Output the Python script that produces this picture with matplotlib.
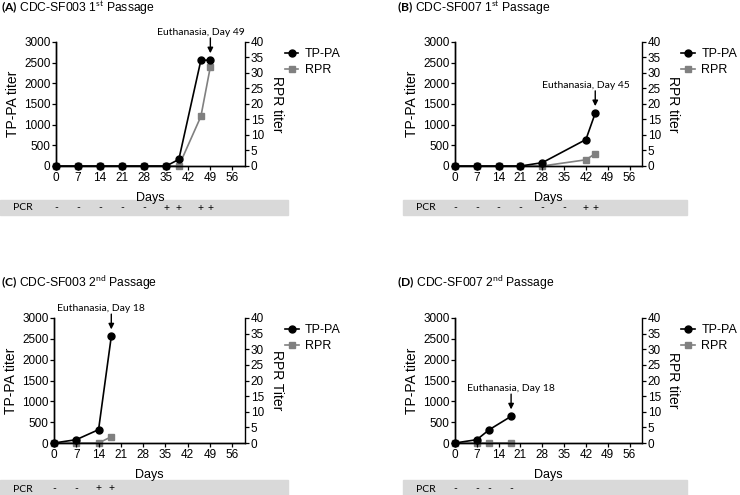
import matplotlib.pyplot as plt
from matplotlib.patches import Rectangle
from matplotlib.transforms import blended_transform_factory

plt.rcParams['font.family'] = ['Liberation Sans', 'DejaVu Sans']
plt.rcParams['mathtext.fontset'] = 'custom'
plt.rcParams['mathtext.rm'] = 'Lato'
plt.rcParams['mathtext.bf'] = 'Lato:bold'

# ---- data ----
a_days = [0, 7, 14, 21, 28, 35, 39, 46, 49]
a_tppa = [0, 0, 0, 0, 0, 0, 160, 2560, 2560]
a_rpr = [0, 0, 0, 0, 0, 0, 0, 16, 32]
a_pcr_days = [0, 7, 14, 21, 28, 35, 39, 46, 49]
a_pcr = ['-', '-', '-', '-', '-', '+', '+', '+', '+']

b_days = [0, 7, 14, 21, 28, 42, 45]
b_tppa = [0, 0, 0, 0, 80, 640, 1280]
b_rpr = [0, 0, 0, 0, 0, 2, 4]
b_pcr_days = [0, 7, 14, 21, 28, 35, 42, 45]
b_pcr = ['-', '-', '-', '-', '-', '-', '+', '+']

c_days = [0, 7, 14, 18]
c_tppa = [0, 80, 320, 2560]
c_rpr = [0, 0, 0, 2]
c_pcr_days = [0, 7, 14, 18]
c_pcr = ['-', '-', '+', '+']

d_days = [0, 7, 11, 18]
d_tppa = [0, 80, 320, 640]
d_rpr = [0, 0, 0, 0]
d_pcr_days = [0, 7, 11, 18]
d_pcr = ['-', '-', '-', '-']

titles = [r'$\mathbf{(A)}$ CDC-SF003 1$^{\mathrm{st}}$ Passage',
          r'$\mathbf{(B)}$ CDC-SF007 1$^{\mathrm{st}}$ Passage',
          r'$\mathbf{(C)}$ CDC-SF003 2$^{\mathrm{nd}}$ Passage',
          r'$\mathbf{(D)}$ CDC-SF007 2$^{\mathrm{nd}}$ Passage']
euth_days = [49, 45, 18, 18]
rpr_labels = ['RPR titer', 'RPR titer', 'RPR Titer', 'RPR titer']
x_ticks = [0, 7, 14, 21, 28, 35, 42, 49, 56]

W, H = 740, 495
fig = plt.figure(figsize=(7.4, 4.95), dpi=100)


def px_rect(left, top, right, bottom):
    return [left / W, 1 - bottom / H, (right - left) / W, (bottom - top) / H]


# layout (pixels): axes box, PCR band box, title position, annotation text x offset
layouts = [
    dict(ax=(56, 42, 245, 166), band=(0, 200, 288, 215), pcr_y=208, title=(1, 8), tdx=-9),
    dict(ax=(455, 42, 642, 166), band=(403, 200, 687, 215), pcr_y=208, title=(397, 8), tdx=-9),
    dict(ax=(54, 318, 245, 443), band=(0, 480, 288, 495), pcr_y=489, title=(1, 283), tdx=-10),
    dict(ax=(455, 318, 642, 443), band=(403, 480, 687, 495), pcr_y=489, title=(397, 283), tdx=0),
]

panels = [
    (a_days, a_tppa, a_rpr, a_pcr_days, a_pcr),
    (b_days, b_tppa, b_rpr, b_pcr_days, b_pcr),
    (c_days, c_tppa, c_rpr, c_pcr_days, c_pcr),
    (d_days, d_tppa, d_rpr, d_pcr_days, d_pcr),
]

for i, (days, tppa, rpr, pcr_days, pcr) in enumerate(panels):
    lay = layouts[i]
    ax = fig.add_axes(px_rect(*lay['ax']))
    ax2 = ax.twinx()
    ax.set_zorder(ax2.get_zorder() + 1)
    ax.patch.set_visible(False)

    l2, = ax2.plot(days, rpr, color='#808080', marker='s', markersize=4.5,
                   lw=1.2, clip_on=False, label='RPR')
    l1, = ax.plot(days, tppa, color='black', marker='o', markersize=5,
                  lw=1.2, clip_on=False, label='TP-PA')

    ax.set_xlim(0, 60)
    ax.set_ylim(0, 3000)
    ax2.set_ylim(0, 40)
    ax.set_xticks(x_ticks)
    ax.set_yticks(range(0, 3001, 500))
    ax2.set_yticks(range(0, 41, 5))
    for a in (ax, ax2):
        a.spines['top'].set_visible(False)
        for s in a.spines.values():
            s.set_linewidth(1.0)
        a.tick_params(direction='out', length=3, width=0.9, labelsize=8.5, pad=1)
    ax.spines['right'].set_visible(False)

    ax.set_xlabel('Days', fontsize=9)
    ax.xaxis.set_label_coords(0.5, -0.21)
    ax.set_ylabel('TP-PA titer', fontsize=10)
    ax.yaxis.set_label_coords(-0.19, 0.5)
    ax2.set_ylabel(rpr_labels[i], fontsize=10, rotation=270, va='center')
    ax2.yaxis.set_label_coords(1.168, 0.5)

    ax.legend([l1, l2], ['TP-PA', 'RPR'], loc='upper left',
              bbox_to_anchor=(1.21, 0.95), frameon=False, fontsize=9,
              handlelength=1.1, handletextpad=0.5, borderpad=0,
              borderaxespad=0, labelspacing=0.3)

    # euthanasia annotation
    ed = euth_days[i]
    ev = tppa[days.index(ed)]
    ax.annotate('', xy=(ed, ev), xycoords='data', xytext=(0, 16),
                textcoords='offset points',
                arrowprops=dict(arrowstyle='-|>', color='black', lw=1.0,
                                mutation_scale=8, shrinkA=0, shrinkB=5),
                annotation_clip=False)
    ax.annotate('Euthanasia, Day %d' % ed, xy=(ed, ev), xycoords='data',
                xytext=(lay['tdx'] * 0.72, 20), textcoords='offset points',
                ha='center', va='center', fontsize=7.5, family='Lato',
                annotation_clip=False)

    # PCR band
    bl, bt, br, bb = lay['band']
    fig.patches.append(Rectangle((bl / W, 1 - bb / H), (br - bl) / W, (bb - bt) / H,
                                 transform=fig.transFigure, color='#d9d9d9',
                                 zorder=0))
    fig.text((bl + 13) / W, 1 - lay['pcr_y'] / H, 'PCR', fontsize=7.5,
             family='Lato', va='center')
    trans = blended_transform_factory(ax.transData, fig.transFigure)
    for d, s in zip(pcr_days, pcr):
        fig.text(d, 1 - lay['pcr_y'] / H, s, transform=trans, fontsize=7.5,
                 family='Lato', ha='center', va='center')

    tx, ty = lay['title']
    fig.text(tx / W, 1 - ty / H, titles[i], fontsize=8.7, va='center')

plt.savefig('out.png', dpi=100)
